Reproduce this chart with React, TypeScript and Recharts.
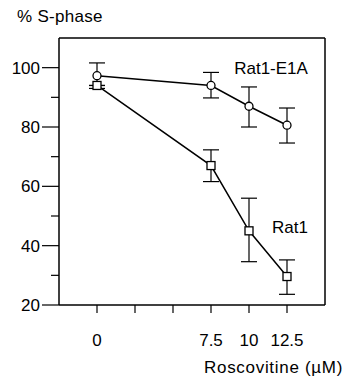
import React from 'react';
import { ComposedChart, Line, XAxis, YAxis, ErrorBar, ReferenceDot, ReferenceLine } from 'recharts';

const doses = [0, 7.5, 10, 12.5];
const e1aValues = [97.3, 94, 87, 80.6];
const e1aErrLow = [4.3, 4.2, 7, 6];
const e1aErrHigh = [4.3, 4.4, 6.5, 5.8];
const rat1Values = [94, 67, 45, 29.6];
const rat1ErrLow = [0, 5.4, 10.4, 6];
const rat1ErrHigh = [0, 5.3, 11, 5.6];
const xTicks = [0, 2.5, 5, 7.5, 10, 12.5];
const xTickLabels = ['0', '', '', '7.5', '10', '12.5'];
const yTicks = [20, 30, 40, 50, 60, 70, 80, 90, 100];
const yLabelled = [20, 40, 60, 80, 100];
const xDomain = [-2.5, 15];
const yDomain = [20, 110];

const data = doses.map((d, i) => ({
  dose: d,
  e1a: e1aValues[i],
  e1aErr: [e1aErrLow[i], e1aErrHigh[i]],
  rat1: rat1Values[i],
  rat1Err: [rat1ErrLow[i], rat1ErrHigh[i]],
}));

const FONT = 'Liberation Sans, Arial, Helvetica, sans-serif';

const YTick = (props: any) => {
  const { x, y, payload } = props;
  const axisX = x + 2 + 17;
  const major = yLabelled.includes(payload.value);
  const len = major ? 17 : 8;
  return (
    <g>
      <line x1={axisX - len} y1={y} x2={axisX} y2={y} stroke="#000" strokeWidth={1.2} />
      {major && (
        <text x={x} y={y} dy="0.36em" textAnchor="end" fontSize={17} fontFamily={FONT} fill="#000">
          {payload.value}
        </text>
      )}
    </g>
  );
};

const SquareDot = (props: any) => {
  const { cx, cy } = props;
  if (cx == null || cy == null) return null;
  return <rect x={cx - 4} y={cy - 4} width={8} height={8} fill="#fff" stroke="#000" strokeWidth={1.3} />;
};

export default function App() {
  return (
    <div style={{ position: 'absolute', left: 0, top: 0, width: 344, height: 385, background: '#fff', fontFamily: FONT }}>
      <div style={{ position: 'absolute', left: 17, top: 7, fontSize: 17, color: '#000', letterSpacing: 0.3, whiteSpace: 'nowrap' }}>% S-phase</div>
      <div style={{ position: 'absolute', left: 204, top: 358, fontSize: 17, color: '#000', letterSpacing: 0.7, whiteSpace: 'nowrap' }}>Roscovitine (µM)</div>
      <ComposedChart width={344} height={385} data={data} margin={{ top: 38, right: 19, bottom: 50, left: 0 }}>
        <XAxis
          dataKey="dose"
          type="number"
          domain={xDomain}
          ticks={xTicks}
          tickFormatter={(v: number) => xTickLabels[xTicks.indexOf(v)] ?? ''}
          tickSize={8}
          tickMargin={21}
          height={30}
          axisLine={{ stroke: '#000', strokeWidth: 1.5 }}
          tickLine={{ stroke: '#000', strokeWidth: 1.2 }}
          tick={{ fill: '#000', fontSize: 17, fontFamily: FONT }}
          allowDataOverflow
        />
        <YAxis
          type="number"
          domain={yDomain}
          ticks={yTicks}
          width={59}
          tickSize={17}
          tickMargin={2}
          tickLine={{ stroke: 'transparent' }}
          tick={<YTick />}
          axisLine={{ stroke: '#000', strokeWidth: 1.5 }}
          allowDataOverflow
        />
        <ReferenceLine y={yDomain[1]} stroke="#000" strokeWidth={1.5} ifOverflow="visible" />
        <ReferenceLine x={xDomain[1]} stroke="#000" strokeWidth={1.5} ifOverflow="visible" />
        <Line
          dataKey="e1a"
          stroke="#000"
          strokeWidth={1.5}
          isAnimationActive={false}
          dot={{ r: 4, fill: '#fff', stroke: '#000', strokeWidth: 1.3 }}
        >
          <ErrorBar dataKey="e1aErr" width={8} stroke="#000" strokeWidth={1.2} direction="y" />
        </Line>
        <Line
          dataKey="rat1"
          stroke="#000"
          strokeWidth={1.5}
          isAnimationActive={false}
          dot={<SquareDot />}
        >
          <ErrorBar dataKey="rat1Err" width={8} stroke="#000" strokeWidth={1.2} direction="y" />
        </Line>
        <ReferenceDot x={11.45} y={100} r={0} fill="none" stroke="none"
          label={{ value: 'Rat1-E1A', position: 'center', fontSize: 17, fontFamily: FONT, fill: '#000' }} />
        <ReferenceDot x={12.7} y={46.3} r={0} fill="none" stroke="none"
          label={{ value: 'Rat1', position: 'center', fontSize: 17, fontFamily: FONT, fill: '#000' }} />
      </ComposedChart>
    </div>
  );
}
